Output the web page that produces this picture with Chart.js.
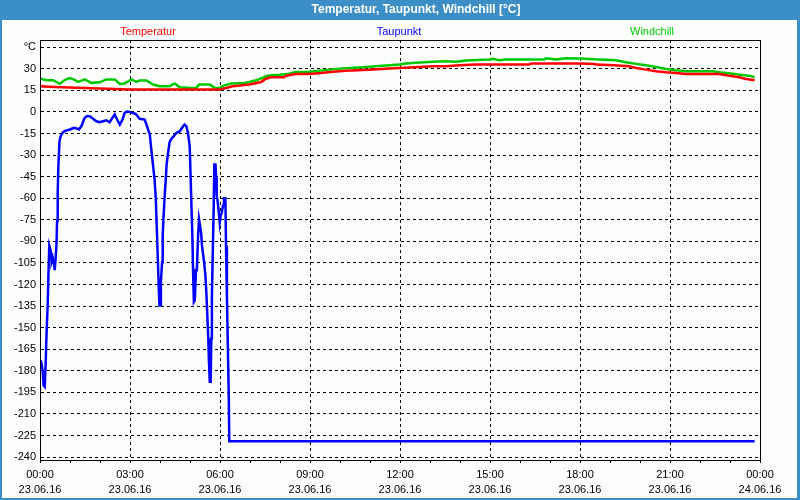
<!DOCTYPE html>
<html>
<head>
<meta charset="utf-8">
<script src="https://cdn.jsdelivr.net/npm/chart.js@4/dist/chart.umd.min.js"></script>
<style>
  html, body { margin: 0; padding: 0; background: #3c8fc6; }
  #c { display: block; }
</style>
</head>
<body>
<canvas id="c" width="800" height="500"></canvas>
<script>
// ---------- data (hours since 23.06.16 00:00, °C) ----------
const tempHours = [0.00,0.49,1.49,1.99,2.99,4.21,5.32,5.98,6.20,6.42,6.98,7.37,7.53,7.70,8.14,8.20,8.53,8.98,9.37,9.76,10.20,10.98,11.64,12.31,13.09,13.53,13.98,14.53,16.31,16.37,17.98,18.48,18.53,19.14,19.64,19.87,20.20,20.53,20.87,21.20,21.53,22.64,22.98,23.31,23.53,23.82];
const tempValues = [17.9,17.4,16.7,16.3,15.6,15.6,15.6,15.5,16.6,17.8,19.0,20.8,23.1,24.1,24.1,25.2,26.4,26.4,27.1,28.0,28.7,29.4,30.1,30.8,31.7,31.7,32.4,32.9,32.9,33.6,33.6,33.4,32.9,32.4,31.7,30.6,29.4,28.3,27.6,27.1,26.4,26.4,25.2,24.1,22.9,22.0];

const dewHours = [0.02,0.06,0.09,0.12,0.16,0.19,0.22,0.26,0.28,0.31,0.35,0.37,0.39,0.43,0.47,0.49,0.52,0.55,0.57,0.59,0.61,0.65,0.69,0.75,0.82,0.91,1.00,1.13,1.22,1.30,1.39,1.47,1.55,1.66,1.77,1.88,1.99,2.10,2.21,2.32,2.41,2.49,2.57,2.66,2.75,2.82,2.90,2.99,3.08,3.19,3.32,3.49,3.57,3.66,3.71,3.77,3.82,3.86,3.89,3.92,3.95,3.98,4.01,4.03,4.07,4.09,4.12,4.16,4.19,4.22,4.27,4.32,4.38,4.46,4.55,4.66,4.77,4.82,4.88,4.93,4.99,5.02,5.05,5.08,5.10,5.13,5.16,5.20,5.23,5.27,5.30,5.33,5.37,5.40,5.47,5.51,5.55,5.58,5.61,5.63,5.66,5.69,5.71,5.73,5.76,5.79,5.81,5.85,5.87,5.89,5.92,5.96,5.99,6.02,6.06,6.10,6.13,6.18,6.20,6.23,6.26,6.29,6.31,23.82];
const dewValues = [-172.6,-176,-180,-190,-191,-174,-153,-132,-114,-93,-96,-98,-104.5,-102,-106,-110,-102,-92,-75.7,-57,-39,-20.3,-16.8,-14.5,-13.4,-12.7,-12.2,-11,-11.5,-12.2,-9.5,-4.8,-3,-3,-4.8,-6.5,-7.2,-6.5,-5.8,-7.2,-4.2,-1.8,-5.3,-8.8,-5.3,-0.7,0.2,0,-0.7,-1.4,-4.8,-5.3,-10,-15.7,-26,-37.6,-47,-60.7,-79,-97.6,-116,-134.6,-134.6,-118,-104.5,-86,-72,-57,-48,-36.5,-28.4,-21,-18.7,-16.8,-14.5,-13.4,-10,-8.8,-10,-14.5,-23.8,-44.5,-66.5,-87,-109,-132,-131,-110,-109,-86,-74.5,-74.5,-83.8,-93,-104.5,-112.6,-127.6,-142.6,-157.6,-172.6,-187.6,-187.6,-157.6,-127.6,-96.5,-66.5,-36.5,-36.5,-45.7,-58.4,-61.9,-70,-76.9,-72.2,-70,-65.3,-60,-60,-93,-127.6,-161,-194.6,-229,-229];

const chillHours = [0.00,0.21,0.43,0.66,0.82,0.99,1.12,1.27,1.49,1.71,1.99,2.21,2.49,2.66,2.82,3.05,3.21,3.32,3.55,3.77,3.99,4.32,4.49,4.66,4.99,5.21,5.30,5.66,5.82,5.98,6.14,6.37,6.81,6.98,7.20,7.42,7.53,7.70,7.98,8.31,8.53,8.98,9.31,9.64,9.98,10.87,11.53,11.98,12.20,12.53,13.09,13.53,13.87,14.20,14.98,15.09,15.31,15.53,16.81,16.87,17.20,17.53,17.98,18.64,19.20,19.53,19.87,20.20,20.53,20.87,21.20,21.53,22.42,22.64,23.09,23.31,23.64,23.82];
const chillValues = [23.3,22.1,22.1,19.5,22.1,23.5,22.6,20.9,22.6,20.2,20.6,22.6,22.6,19.5,19.8,22.6,20.9,21.9,21.9,19.0,17.9,17.9,19.8,17.2,16.7,16.7,19.0,19.0,16.7,16.6,18.5,19.7,20.1,20.8,22.0,23.6,24.8,25.5,25.9,26.6,27.8,28.0,28.7,29.4,30.1,31.3,32.2,32.9,33.6,34.1,34.8,35.2,34.8,35.7,36.4,36.9,35.9,36.4,36.4,37.3,36.4,37.3,37.1,36.4,35.9,34.5,33.4,32.4,31.3,29.9,29.0,28.3,28.3,27.6,26.6,25.9,25.2,24.1];

const seriesNames = ['Temperatur', 'Taupunkt', 'Windchill'];
const yTickValues = [-240,-225,-210,-195,-180,-165,-150,-135,-120,-105,-90,-75,-60,-45,-30,-15,0,15,30,45];
const yTickLabels = ['-240','-225','-210','-195','-180','-165','-150','-135','-120','-105','-90','-75','-60','-45','-30','-15','0','15','30','°C'];
const xHourTicks = [0,1,2,3,4,5,6,7,8,9,10,11,12,13,14,15,16,17,18,19,20,21,22,23,24];
const xTimeLabels = ['00:00','03:00','06:00','09:00','12:00','15:00','18:00','21:00','00:00'];
const xDateLabels = ['23.06.16','23.06.16','23.06.16','23.06.16','23.06.16','23.06.16','23.06.16','23.06.16','24.06.16'];
const titleText = 'Temperatur, Taupunkt, Windchill [°C]';

const toPoints = (xs, ys) => xs.map((x, i) => ({ x: x, y: ys[i] }));

const FONT = 'Liberation Sans, Arial, sans-serif';

const chromePlugin = {
  id: 'chrome',
  beforeDraw(chart) {
    const ctx = chart.ctx;
    ctx.save();
    ctx.fillStyle = '#3c8fc6';
    ctx.fillRect(0, 0, chart.width, chart.height);
    ctx.fillStyle = '#fcfefc';
    ctx.fillRect(2, 20, 795, 478);
    ctx.restore();
  },
  afterDatasetsDraw(chart) {
    const a = chart.chartArea;
    const ctx = chart.ctx;
    ctx.save();
    ctx.strokeStyle = '#000';
    ctx.lineWidth = 1;
    ctx.strokeRect(Math.round(a.left) + 0.5, Math.round(a.top) + 0.5,
                   Math.round(a.right - a.left), Math.round(a.bottom - a.top));
    ctx.restore();
  },
  afterDraw(chart, args, opts) {
    const ctx = chart.ctx;
    ctx.save();
    // title in the blue bar
    ctx.font = 'bold 12px ' + FONT;
    ctx.textAlign = 'center';
    ctx.textBaseline = 'middle';
    ctx.fillStyle = '#ffffff';
    ctx.fillText(opts.title, opts.titleX, opts.titleY);
    // series labels
    ctx.font = '11px ' + FONT;
    chart.data.datasets.forEach((ds, i) => {
      ctx.fillStyle = ds.borderColor;
      ctx.fillText(ds.label, opts.centers[i], opts.y);
    });
    ctx.restore();
  }
};

new Chart(document.getElementById('c'), {
  type: 'line',
  data: {
    datasets: [
      { label: seriesNames[0], data: toPoints(tempHours, tempValues), borderColor: '#ff0000', borderWidth: 2.5, pointRadius: 0, tension: 0, fill: false },
      { label: seriesNames[1], data: toPoints(dewHours, dewValues), borderColor: '#0000ff', borderWidth: 2.5, pointRadius: 0, tension: 0, fill: false },
      { label: seriesNames[2], data: toPoints(chillHours, chillValues), borderColor: '#00c800', borderWidth: 2.5, pointRadius: 0, tension: 0, fill: false }
    ]
  },
  options: {
    responsive: false,
    devicePixelRatio: 1,
    animation: false,
    events: [],
    layout: { padding: { left: 0, right: 0, top: 40, bottom: 0 } },
    plugins: {
      legend: { display: false },
      tooltip: { enabled: false },
      title: { display: false, text: titleText },
      chrome: { centers: [148, 399, 652], y: 32, title: titleText, titleX: 416, titleY: 10 }
    },
    scales: {
      x: {
        type: 'linear',
        position: 'bottom',
        min: 0,
        max: 24,
        afterBuildTicks: s => { s.ticks = xHourTicks.map(v => ({ value: v })); },
        afterFit: s => { s.height = 40; },
        grid: {
          color: c => (c.tick && c.tick.value % 3 === 0) ? '#000000' : 'rgba(0,0,0,0)',
          lineWidth: 1,
          drawTicks: true,
          tickLength: 3,
          tickColor: '#000000',
          tickWidth: 1
        },
        border: { display: true, color: '#000000', width: 1, dash: [3, 3] },
        ticks: {
          autoSkip: false,
          maxRotation: 0,
          minRotation: 0,
          padding: 4,
          color: '#000000',
          font: { family: FONT, size: 11, lineHeight: 1.39 },
          callback: v => (v % 3 === 0) ? [xTimeLabels[v / 3], xDateLabels[v / 3]] : ''
        }
      },
      y: {
        type: 'linear',
        position: 'left',
        min: -242,
        max: 50,
        afterBuildTicks: s => { s.ticks = yTickValues.map(v => ({ value: v })); },
        afterFit: s => { s.width = 40; },
        grid: { color: '#000000', lineWidth: 1, drawTicks: false },
        border: { display: true, color: '#000000', width: 1, dash: [3, 3] },
        ticks: {
          padding: 4,
          color: '#000000',
          font: { family: FONT, size: 11 },
          callback: v => yTickLabels[yTickValues.indexOf(v)]
        }
      },
      yR: {
        type: 'linear',
        position: 'right',
        display: true,
        grid: { display: false, drawTicks: false },
        border: { display: false },
        ticks: { display: false },
        afterFit: s => { s.width = 40; }
      }
    }
  },
  plugins: [chromePlugin]
});
</script>
</body>
</html>
